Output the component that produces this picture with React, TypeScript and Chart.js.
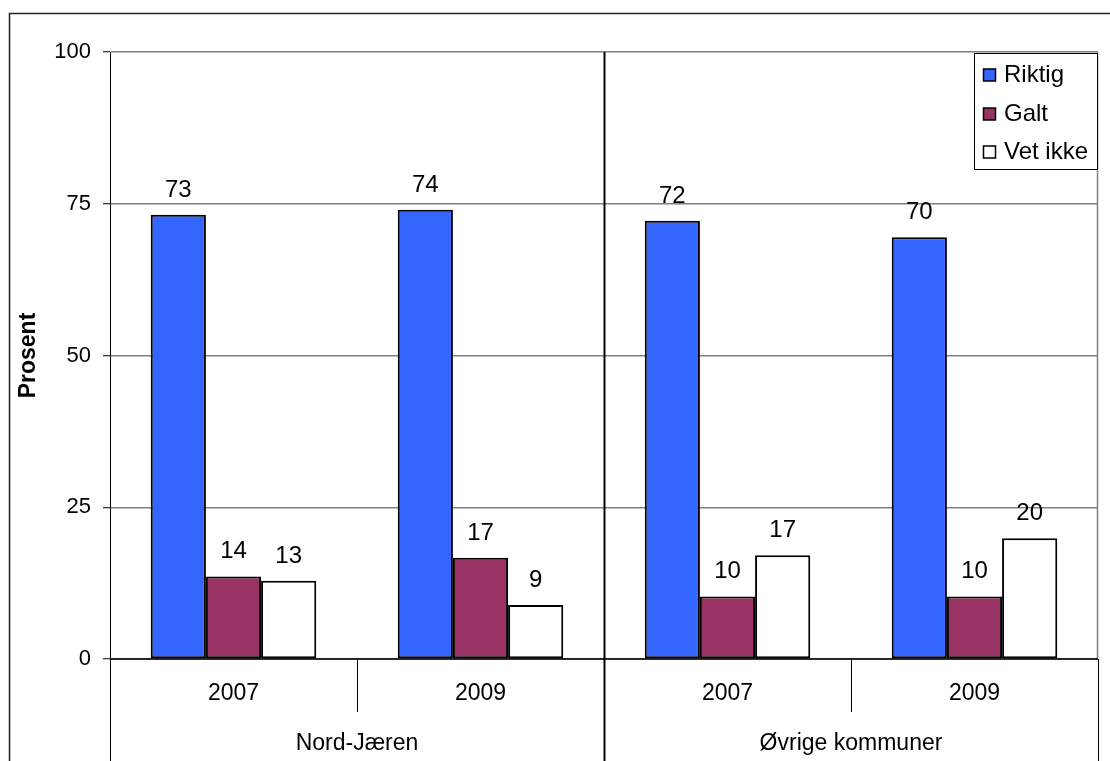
import React, { useEffect, useRef } from "react";
import { Chart, registerables } from "chart.js";

Chart.register(...registerables);

const years = ["2007", "2009", "2007", "2009"];
const regions = ["Nord-Jæren", "Nord-Jæren", "Øvrige kommuner", "Øvrige kommuner"];
const seriesNames = ["Riktig", "Galt", "Vet ikke"];
const riktig = [73.2, 74.0, 72.2, 69.5];
const galt = [13.6, 16.7, 10.3, 10.3];
const vetIkke = [12.9, 8.9, 17.1, 19.9];
const yTicks = [0, 25, 50, 75, 100];

const FONT = "'Liberation Sans', Arial, sans-serif";

const framePlugin = {
  id: "frame",
  beforeDraw(chart: any) {
    const ctx = chart.ctx;
    ctx.save();
    ctx.fillStyle = "#fff";
    ctx.fillRect(0, 0, chart.width, chart.height);
    ctx.strokeStyle = "#222";
    ctx.lineWidth = 1.5;
    ctx.beginPath();
    ctx.moveTo(9.5, chart.height);
    ctx.lineTo(9.5, 13.5);
    ctx.lineTo(chart.width, 13.5);
    ctx.stroke();
    ctx.restore();
  },
};

const labelsPlugin = {
  id: "valueLabels",
  afterDatasetsDraw(chart: any) {
    const ctx = chart.ctx;
    ctx.save();
    ctx.font = `24px ${FONT}`;
    ctx.fillStyle = "#000";
    ctx.textAlign = "center";
    ctx.textBaseline = "alphabetic";
    chart.data.datasets.forEach((ds: any, di: number) => {
      const meta = chart.getDatasetMeta(di);
      meta.data.forEach((bar: any, i: number) => {
        ctx.fillText(String(Math.round(ds.data[i])), bar.x, bar.y - 18);
      });
    });
    ctx.restore();
  },
};

const axisPlugin = {
  id: "groupAxis",
  afterDraw(chart: any) {
    const ctx = chart.ctx;
    const x = chart.scales.x;
    const area = chart.chartArea;
    const H = chart.height;
    const n = chart.data.labels.length;
    const step = (area.right - area.left) / n;
    const bounds: number[] = [];
    for (let i = 0; i <= n; i++) bounds.push(x.getPixelForValue(0) - step / 2 + i * step);
    ctx.save();
    ctx.strokeStyle = "#808080";
    ctx.lineWidth = 1.5;
    ctx.beginPath();
    ctx.moveTo(area.right - 0.5, area.top);
    ctx.lineTo(area.right - 0.5, area.bottom);
    ctx.stroke();
    ctx.strokeStyle = "#000";
    ctx.lineWidth = 1.5;
    ctx.beginPath();
    ctx.moveTo(area.left, area.bottom);
    ctx.lineTo(area.right, area.bottom);
    ctx.stroke();
    for (let i = 0; i <= n; i++) {
      const bx = Math.round(bounds[i]) + 0.5;
      const groupEdge = i === 0 || i === n || regions[i] !== regions[i - 1];
      ctx.beginPath();
      if (groupEdge) {
        const top = i === n ? area.bottom : area.top;
        ctx.lineWidth = i > 0 && i < n ? 2 : 1;
        ctx.moveTo(bx, top);
        ctx.lineTo(bx, H);
      } else {
        ctx.lineWidth = 1;
        ctx.moveTo(bx, area.bottom);
        ctx.lineTo(bx, area.bottom + 53);
      }
      ctx.stroke();
    }
    ctx.fillStyle = "#000";
    ctx.font = `23px ${FONT}`;
    ctx.textAlign = "center";
    ctx.textBaseline = "middle";
    chart.data.labels.forEach((lab: string, i: number) => {
      ctx.fillText(lab, x.getPixelForValue(i), area.bottom + 35);
    });
    let start = 0;
    for (let i = 1; i <= n; i++) {
      if (i === n || regions[i] !== regions[start]) {
        const cx = (bounds[start] + bounds[i]) / 2;
        ctx.fillText(regions[start], cx, area.bottom + 85);
        start = i;
      }
    }
    ctx.restore();
  },
};

const legendPlugin = {
  id: "boxLegend",
  afterDraw(chart: any) {
    const ctx = chart.ctx;
    const area = chart.chartArea;
    const left = 974.5;
    const top = area.top + 1.5;
    const right = area.right - 0.5;
    const bottom = 169.5;
    ctx.save();
    ctx.fillStyle = "#fff";
    ctx.fillRect(left, top, right - left, bottom - top);
    ctx.strokeStyle = "#000";
    ctx.lineWidth = 1;
    ctx.strokeRect(left, top, right - left, bottom - top);
    const centers = [75, 114, 152];
    ctx.font = `24px ${FONT}`;
    ctx.textAlign = "left";
    ctx.textBaseline = "middle";
    chart.data.datasets.forEach((ds: any, i: number) => {
      const cy = centers[i];
      ctx.fillStyle = ds.backgroundColor;
      ctx.fillRect(983.5, cy - 6, 12, 12);
      ctx.strokeStyle = "#000";
      ctx.lineWidth = 1.5;
      ctx.strokeRect(983.5, cy - 6, 12, 12);
      ctx.fillStyle = "#000";
      ctx.fillText(ds.label, 1004, cy);
    });
    ctx.restore();
  },
};

export default function App() {
  const ref = useRef<HTMLCanvasElement>(null);
  useEffect(() => {
    if (!ref.current) return;
    const chart = new Chart(ref.current, {
      type: "bar",
      data: {
        labels: years,
        datasets: [
          { label: seriesNames[0], data: riktig, backgroundColor: "#3366FF" },
          { label: seriesNames[1], data: galt, backgroundColor: "#993366" },
          { label: seriesNames[2], data: vetIkke, backgroundColor: "#FFFFFF" },
        ].map((d) => ({
          ...d,
          borderColor: "#000",
          borderWidth: 2,
          borderSkipped: false,
          barPercentage: 1.0,
          categoryPercentage: 0.67,
        })),
      },
      options: {
        animation: false,
        responsive: false,
        devicePixelRatio: 1,
        layout: { padding: { left: 0, top: 52, right: 12, bottom: 0 } },
        plugins: { legend: { display: false }, tooltip: { enabled: false } },
        scales: {
          x: {
            type: "category",
            grid: { display: false },
            border: { display: false },
            ticks: { display: false },
            afterFit: (s: any) => {
              s.height = 102;
            },
          },
          y: {
            min: 0,
            max: 100,
            afterBuildTicks: (s: any) => {
              s.ticks = yTicks.map((v) => ({ value: v }));
            },
            ticks: {
              font: { family: FONT, size: 22 },
              color: "#000",
              padding: 12,
            },
            grid: {
              color: "#808080",
              lineWidth: 1.5,
              tickColor: "#000",
              tickLength: 7,
              tickWidth: 1,
            },
            border: { color: "#000", width: 1 },
            title: {
              display: true,
              text: "Prosent",
              color: "#000",
              font: { family: FONT, size: 23, weight: "bold" },
              padding: { top: 15, bottom: 0 },
            },
            afterFit: (s: any) => {
              s.width = 110;
            },
          },
        },
      },
      plugins: [framePlugin, labelsPlugin, axisPlugin, legendPlugin],
    });
    return () => chart.destroy();
  }, []);
  return (
    <div style={{ position: "absolute", left: 0, top: 0, width: 1110, height: 761 }}>
      <canvas ref={ref} width={1110} height={761} style={{ width: 1110, height: 761, display: "block" }} />
    </div>
  );
}
